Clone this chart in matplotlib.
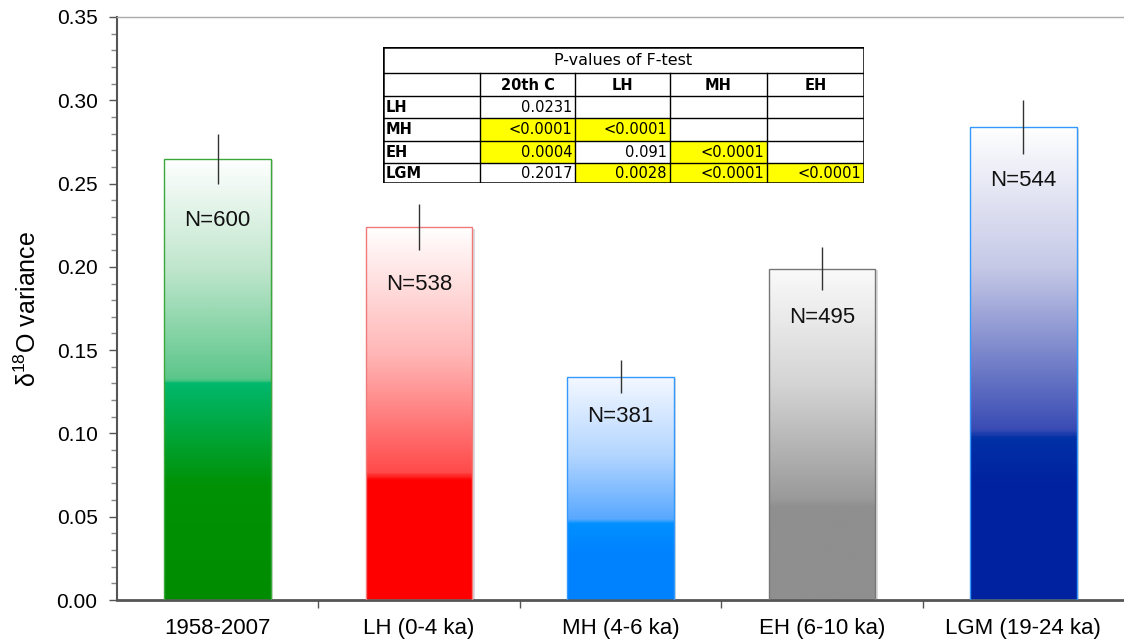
import numpy as np
import matplotlib
matplotlib.use("Agg")
import matplotlib.pyplot as plt
from matplotlib.colors import LinearSegmentedColormap
from matplotlib.patches import Rectangle

plt.rcParams['font.family'] = ['Liberation Sans', 'DejaVu Sans']
plt.rcParams['mathtext.fontset'] = 'custom'
plt.rcParams['mathtext.rm'] = 'Liberation Sans'

# variance of d18O per period, with error and sample count
periods = ['1958-2007', 'LH (0-4 ka)', 'MH (4-6 ka)', 'EH (6-10 ka)', 'LGM (19-24 ka)']
variance = [0.265, 0.224, 0.134, 0.199, 0.284]
variance_err = [0.015, 0.014, 0.010, 0.013, 0.016]
n_obs = [600, 538, 381, 495, 544]

# F-test p-values (rows vs columns), None where blank
ftest_title = 'P-values of F-test'
ftest_cols = ['20th C', 'LH', 'MH', 'EH']
ftest_rows = ['LH', 'MH', 'EH', 'LGM']
ftest_vals = [
    ['0.0231', None, None, None],
    ['<0.0001', '<0.0001', None, None],
    ['0.0004', '0.091', '<0.0001', None],
    ['0.2017', '0.0028', '<0.0001', '<0.0001'],
]

# gradient stops (0 = top of bar, 1 = bottom) and edge colour per bar
bar_stops = [
    [(0, '#ffffff'), (0.25, '#bfe6cc'), (0.50, '#5cc68a'), (0.51, '#00b86c'), (0.74, '#009206'), (1, '#008c00')],
    [(0, '#ffffff'), (0.35, '#ffb4b4'), (0.66, '#ff4a4a'), (0.68, '#ff0000'), (1, '#ff0000')],
    [(0, '#f4f8ff'), (0.35, '#b4d6ff'), (0.64, '#58a8ff'), (0.66, '#0090ff'), (0.8, '#0082ff'), (1, '#0082ff')],
    [(0, '#fafafa'), (0.35, '#d4d4d4'), (0.70, '#999999'), (0.72, '#8f8f8f'), (1, '#8f8f8f')],
    [(0, '#ffffff'), (0.3, '#c4c8e6'), (0.64, '#3a4cb4'), (0.66, '#0030a6'), (0.76, '#0022a0'), (1, '#0022a0')],
]
edge_colors = ['#3aa83a', '#f07a7a', '#3399ff', '#777777', '#3399ff']
label_drop = [19, 17, 9, 12, 12]  # points below the error bar

fig = plt.figure(figsize=(11.24, 6.42), dpi=100)
ax = fig.add_axes([117 / 1124, 42 / 642, 1007 / 1124, 583 / 642])

x = np.arange(len(periods))
width = 0.53
bars = ax.bar(x, variance, width, color='none', edgecolor='none', zorder=2)

grad = np.linspace(0, 1, 400)[:, None]
for i, b in enumerate(bars):
    cmap = LinearSegmentedColormap.from_list('bar%d' % i, bar_stops[i])
    x0 = b.get_x()
    im = ax.imshow(grad, cmap=cmap, vmin=0, vmax=1, aspect='auto', origin='upper',
                   extent=(x0, x0 + width, 0, variance[i]), zorder=2, interpolation='bilinear')
    im.set_clip_path(b)
    ax.add_patch(Rectangle((x0, 0), width, variance[i], fill=False,
                           edgecolor=edge_colors[i], lw=1.0, zorder=3))
    # soft shadow on the right side
    ax.add_patch(Rectangle((x0 + width, 0), 0.012, variance[i] - 0.001, color='#dddddd',
                           lw=0, zorder=1))

ax.errorbar(x, variance, yerr=variance_err, fmt='none', ecolor='#333333',
            elinewidth=1.0, capsize=0, zorder=4)

for i in range(len(periods)):
    ax.annotate('N=%d' % n_obs[i], (x[i], variance[i] - variance_err[i]),
                xytext=(0, -label_drop[i]), textcoords='offset points',
                ha='center', va='top', fontsize=16, color='#111111', zorder=5)

ax.set_xlim(-0.5, len(periods) - 0.5)
ax.set_ylim(0, 0.35)
ax.set_yticks(np.arange(0, 0.351, 0.05))
ax.set_yticks(np.arange(0, 0.351, 0.01), minor=True)
ax.set_yticklabels(['%.2f' % v for v in np.arange(0, 0.351, 0.05)], fontsize=15)
ax.set_xticks(x)
ax.set_xticklabels(periods, fontsize=16)
ax.set_xticks(np.arange(0.5, len(periods) - 0.5, 1), minor=True)
ax.tick_params(axis='x', which='major', length=0, pad=13)
ax.tick_params(axis='x', which='minor', length=6, width=1, color='#555555', direction='out')
ax.tick_params(axis='y', which='major', length=6, width=1, color='#555555', pad=8)
ax.tick_params(axis='y', which='minor', length=4, width=1, color='#888888')

ax.spines['right'].set_visible(False)
ax.spines['top'].set_color('#aaaaaa')
ax.spines['top'].set_linewidth(1.0)
ax.spines['left'].set_color('#555555')
ax.spines['left'].set_linewidth(1.5)
ax.spines['bottom'].set_color('#555555')
ax.spines['bottom'].set_linewidth(2)

ax.set_ylabel('δ$^{\\mathregular{18}}$O variance', fontsize=18, labelpad=11)

# p-value table drawn in pixel units
tab = fig.add_axes([383 / 1124, 1 - 183 / 642, 481 / 1124, 136 / 642])
tab.set_xlim(0, 481)
tab.set_ylim(136, 0)
tab.axis('off')
col_edges = [0, 97, 192, 287, 384, 481]
row_edges = [0, 26, 49, 71, 94, 116, 136]
tfont = ['DejaVu Sans']

for r, row in enumerate(ftest_vals):
    y0, y1 = row_edges[r + 2], row_edges[r + 3]
    for c, val in enumerate(row):
        x0, x1 = col_edges[c + 1], col_edges[c + 2]
        if val is None:
            continue
        p = float(val.lstrip('<'))
        if p < 0.01:
            tab.add_patch(Rectangle((x0, y0), x1 - x0, y1 - y0, color='#ffff00', lw=0))
        tab.text(x1 - 3, (y0 + y1) / 2 + 0.5, val, ha='right', va='center',
                 fontsize=10.5, family=tfont)
    tab.text(3, (y0 + y1) / 2 + 0.5, ftest_rows[r], ha='left', va='center',
             fontsize=10.5, fontweight='bold', family=tfont)

for c, name in enumerate(ftest_cols):
    tab.text((col_edges[c + 1] + col_edges[c + 2]) / 2, (row_edges[1] + row_edges[2]) / 2 + 0.5,
             name, ha='center', va='center', fontsize=10.5, fontweight='bold', family=tfont)
tab.text(col_edges[-1] / 2, row_edges[1] / 2 + 0.5, ftest_title, ha='center', va='center',
         fontsize=11.5, family=tfont)

for yv in row_edges[1:-1]:
    tab.plot([0, 481], [yv, yv], color='black', lw=1)
for xv in col_edges[1:-1]:
    tab.plot([xv, xv], [row_edges[1], row_edges[-1]], color='black', lw=1)
tab.add_patch(Rectangle((0, 0), 481, 136, fill=False, edgecolor='black', lw=1.8))

fig.savefig('out.png', dpi=100)
